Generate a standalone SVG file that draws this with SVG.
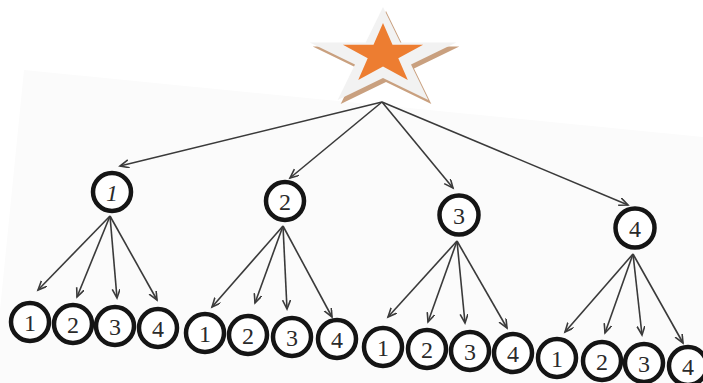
<svg xmlns="http://www.w3.org/2000/svg" width="703" height="383" viewBox="0 0 703 383">
  <defs>
    <style>
      .node circle { fill: #ffffff; stroke: #151515; stroke-width: 4.5; }
      .node text { font-family: "Liberation Serif", "Times New Roman", serif; font-size: 24px; fill: #2a2a2a; text-anchor: middle; dominant-baseline: central; }
      .edge { stroke: #3a3a3a; stroke-width: 1.6; fill: none; marker-end: url(#arrow); }
    </style>
    <marker id="arrow" markerWidth="12" markerHeight="10" refX="9" refY="4" orient="auto" markerUnits="userSpaceOnUse">
      <path d="M0,0 L9,4 L0,8" fill="none" stroke="#3a3a3a" stroke-width="1.6"/>
    </marker>
  </defs>

  <!-- page background -->
  <rect width="703" height="383" fill="#ffffff"/>
  <polygon points="24,70 703,137 703,383 0,383 0,310" fill="#fbfbfb"/>

  <!-- root star -->
  <g id="root">
    <polygon points="386,11 403.3,46.5 459.3,46.5 414,68.5 431.3,104 386,82 340.7,104 358,68.5 312.7,46.5 368.7,46.5" fill="#c9a07f"/>
    <polygon points="383,7 400.3,42.5 456.3,42.5 411,64.5 428.3,100 383,78 337.7,100 355,64.5 309.7,42.5 365.7,42.5" fill="#f2f2f2"/>
    <polygon points="383,23 392.5,44.8 423.1,44.8 398.3,58.2 407.8,80 383,66.5 358.2,80 367.7,58.2 342.9,44.8 373.5,44.8" fill="#ed7d31"/>
  </g>

  <!-- connectors -->
  <g id="connectors">
    <line class="edge" x1="382" y1="102" x2="120" y2="166"/>
    <line class="edge" x1="382" y1="102" x2="290" y2="178"/>
    <line class="edge" x1="382" y1="102" x2="453" y2="188"/>
    <line class="edge" x1="382" y1="102" x2="628" y2="205"/>

    <line class="edge" x1="110" y1="216" x2="38" y2="290"/>
    <line class="edge" x1="110" y1="216" x2="77" y2="297"/>
    <line class="edge" x1="110" y1="216" x2="117" y2="298"/>
    <line class="edge" x1="110" y1="216" x2="157" y2="300"/>

    <line class="edge" x1="283" y1="226" x2="212" y2="307"/>
    <line class="edge" x1="283" y1="226" x2="255" y2="303"/>
    <line class="edge" x1="283" y1="226" x2="287" y2="309"/>
    <line class="edge" x1="283" y1="226" x2="332" y2="317"/>

    <line class="edge" x1="457" y1="241" x2="388" y2="317"/>
    <line class="edge" x1="457" y1="241" x2="428" y2="322"/>
    <line class="edge" x1="457" y1="241" x2="465" y2="323"/>
    <line class="edge" x1="457" y1="241" x2="507" y2="328"/>

    <line class="edge" x1="633" y1="254" x2="565" y2="332"/>
    <line class="edge" x1="633" y1="254" x2="605" y2="333"/>
    <line class="edge" x1="633" y1="254" x2="642" y2="335"/>
    <line class="edge" x1="633" y1="254" x2="683" y2="343"/>
  </g>

  <!-- first level -->
  <g id="n1" class="node"><circle cx="112" cy="192" r="19"/><text x="112" y="193" font-style="italic">1</text></g>
  <g id="n2" class="node"><circle cx="285" cy="201" r="19"/><text x="285" y="202">2</text></g>
  <g id="n3" class="node"><circle cx="459" cy="215" r="19.5"/><text x="459" y="216">3</text></g>
  <g id="n4" class="node"><circle cx="635" cy="228" r="19.5"/><text x="635" y="229">4</text></g>

  <!-- leaves under 1 -->
  <g id="n1-1" class="node"><circle cx="30" cy="322" r="19"/><text x="30" y="323">1</text></g>
  <g id="n1-2" class="node"><circle cx="73" cy="324" r="19"/><text x="73" y="325">2</text></g>
  <g id="n1-3" class="node"><circle cx="115" cy="326" r="19"/><text x="115" y="327">3</text></g>
  <g id="n1-4" class="node"><circle cx="158" cy="328" r="19"/><text x="158" y="329">4</text></g>

  <!-- leaves under 2 -->
  <g id="n2-1" class="node"><circle cx="205" cy="333" r="19"/><text x="205" y="334">1</text></g>
  <g id="n2-2" class="node"><circle cx="248" cy="335" r="19"/><text x="248" y="336">2</text></g>
  <g id="n2-3" class="node"><circle cx="292" cy="337" r="19"/><text x="292" y="338">3</text></g>
  <g id="n2-4" class="node"><circle cx="337" cy="339" r="19"/><text x="337" y="340">4</text></g>

  <!-- leaves under 3 -->
  <g id="n3-1" class="node"><circle cx="383" cy="347" r="19"/><text x="383" y="348">1</text></g>
  <g id="n3-2" class="node"><circle cx="427" cy="349" r="19"/><text x="427" y="350">2</text></g>
  <g id="n3-3" class="node"><circle cx="470" cy="351" r="19"/><text x="470" y="352">3</text></g>
  <g id="n3-4" class="node"><circle cx="513" cy="353" r="19"/><text x="513" y="354">4</text></g>

  <!-- leaves under 4 -->
  <g id="n4-1" class="node"><circle cx="557" cy="358" r="19"/><text x="557" y="359">1</text></g>
  <g id="n4-2" class="node"><circle cx="602" cy="361" r="19"/><text x="602" y="362">2</text></g>
  <g id="n4-3" class="node"><circle cx="644" cy="363" r="19"/><text x="644" y="364">3</text></g>
  <g id="n4-4" class="node"><circle cx="688" cy="366" r="19"/><text x="688" y="367">4</text></g>
</svg>
